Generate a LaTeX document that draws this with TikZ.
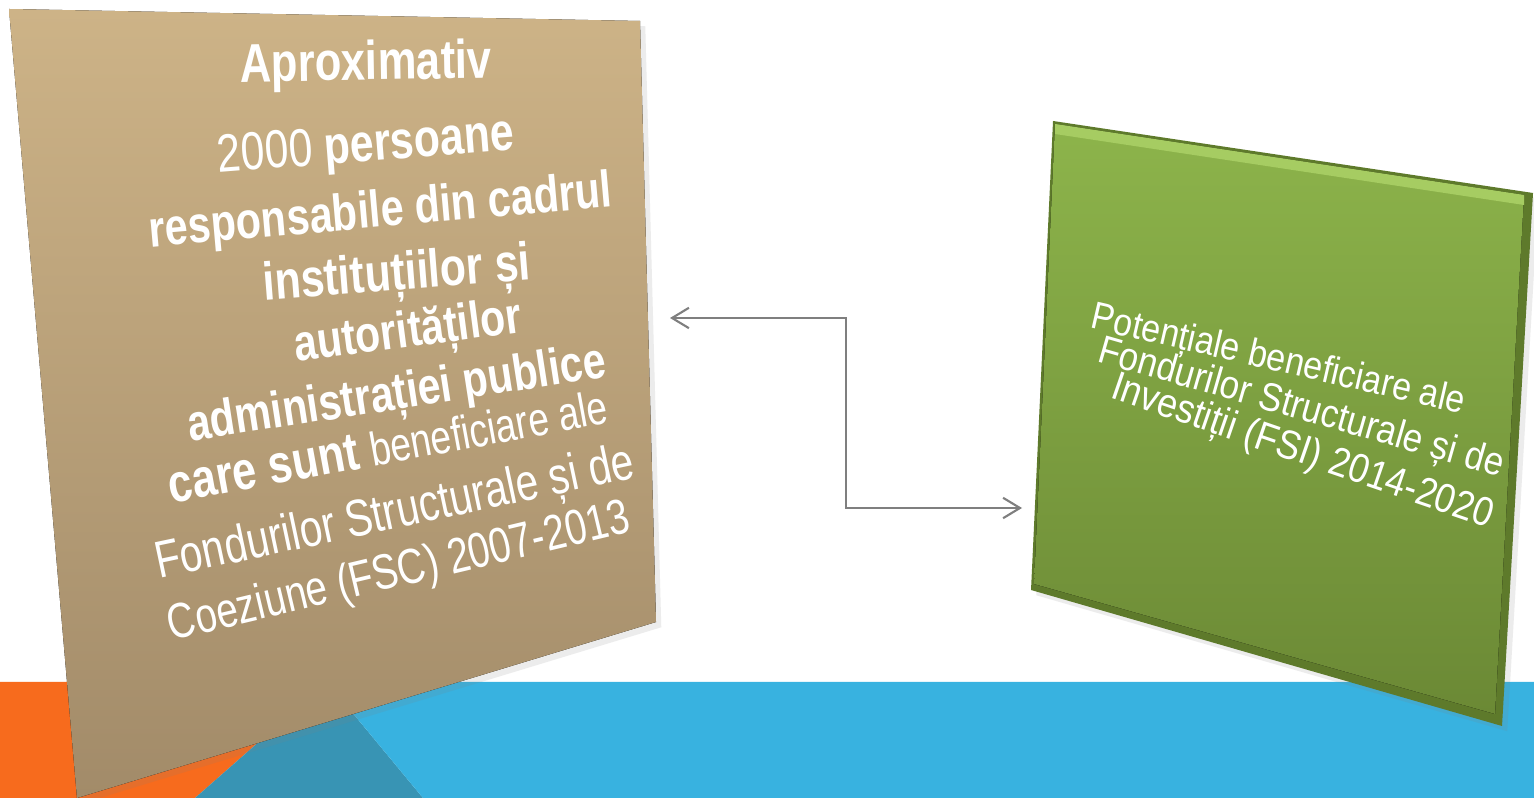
\documentclass[tikz,border=0pt]{standalone}
\usepackage{fontspec}
\setmainfont{Liberation Sans}
\newfontfamily\tallfont[FakeStretch=0.8]{Liberation Sans}
\newfontfamily\thinfont[FakeStretch=0.78]{Liberation Sans}
\newfontfamily\greenfont[FakeStretch=0.88]{Liberation Sans}
\usetikzlibrary{arrows.meta,shadows}

\definecolor{bandorange}{HTML}{F76B1D}
\definecolor{bandblue}{HTML}{38B2E0}
\definecolor{bandteal}{HTML}{3894B4}
\definecolor{tantop}{HTML}{CDB387}
\definecolor{tanbottom}{HTML}{A28B69}
\definecolor{greentop}{HTML}{8DB44B}
\definecolor{greenbottom}{HTML}{6B8935}
\definecolor{greenrim}{HTML}{5E7A2B}
\definecolor{greenlight}{HTML}{A6CC62}
\definecolor{arrowgray}{HTML}{7F7F7F}

\begin{document}
\begin{tikzpicture}[x=0.01cm,y=-0.01cm,
        txt/.style={text=white,inner sep=0pt,anchor=base},
        boldtxt/.style={txt,font=\fontsize{15pt}{17pt}\selectfont\tallfont\bfseries},
        thintxt/.style={txt,font=\fontsize{14.5pt}{17pt}\selectfont\thinfont},
        conn/.style={draw=arrowgray,line width=0.6pt,{Straight Barb[length=4.8pt,width=5.8pt]}-{Straight Barb[length=4.8pt,width=5.8pt]}}]
        \useasboundingbox (0,0) rectangle (1534,798);
        \fill[white] (0,0) rectangle (1534,798);
        % bands at the bottom
        \fill[bandorange] (0,682) -- (327,682) -- (195,798) -- (0,798) -- cycle;
        \fill[bandteal] (327,682) -- (423,798) -- (195,798) -- cycle;
        \fill[bandblue] (327,682) -- (1534,682) -- (1534,798) -- (423,798) -- cycle;
        % left box
        \coordinate (ltl) at (9,9);
        \coordinate (ltr) at (640,21);
        \coordinate (lbr) at (656,622);
        \coordinate (lbl) at (77,798);
        \fill[top color=tantop,bottom color=tanbottom,drop shadow={opacity=0.15,shadow xshift=1.5pt,shadow yshift=-1.5pt}] (ltl) -- (ltr) -- (lbr) -- (lbl) -- cycle;
        % right box
        \coordinate (rtl) at (1053,121);
        \coordinate (rtr) at (1533,193);
        \coordinate (rbr) at (1502,726);
        \coordinate (rbl) at (1031,590);
        \fill[greenrim,drop shadow={opacity=0.15,shadow xshift=1.5pt,shadow yshift=-1.5pt}] (rtl) -- (rtr) -- (rbr) -- (rbl) -- cycle;
        \fill[top color=greentop,bottom color=greenbottom] (1055,124) -- (1524,195) -- (1495,714) -- (1034,584) -- cycle;
        \fill[greenlight] (1055,124) -- (1524,195) -- (1524,205) -- (1055,134) -- cycle;
        % texts of the left box
        \node[boldtxt,font=\fontsize{15.5pt}{17pt}\selectfont\tallfont\bfseries,rotate=1] (a1) at (366,80) {Aproximativ};
        \node[boldtxt,font=\fontsize{15.2pt}{17pt}\selectfont\tallfont\bfseries,rotate=4.5] (a2) at (367,161) {\mdseries 2000 \bfseries persoane};
        \node[boldtxt,font=\fontsize{14.7pt}{17pt}\selectfont\tallfont\bfseries,rotate=5] (a3) at (382,227) {responsabile din cadrul};
        \node[boldtxt,font=\fontsize{15.2pt}{17pt}\selectfont\tallfont\bfseries,rotate=4.5] (a4) at (398,290) {instituțiilor și};
        \node[boldtxt,font=\fontsize{14.6pt}{17pt}\selectfont\tallfont\bfseries,rotate=7.5] (a5) at (410,347) {autorităților};
        \node[boldtxt,font=\fontsize{14.6pt}{17pt}\selectfont\tallfont\bfseries,rotate=8.8] (a6) at (399,409) {administrației publice};
        \node[boldtxt,font=\fontsize{15.4pt}{17pt}\selectfont\tallfont\bfseries,rotate=10.4] (a7) at (391,463) {care sunt {\mdseries\fontsize{13.5pt}{17pt}\selectfont\thinfont beneficiare ale}};
        \node[thintxt,font=\fontsize{14.8pt}{17pt}\selectfont\thinfont,rotate=12] (a8) at (398,528) {Fondurilor Structurale și de};
        \node[thintxt,font=\fontsize{14.1pt}{17pt}\selectfont\thinfont,rotate=13.4] (a9) at (402,586) {Coeziune (FSC) 2007-2013};
        % texts of the right box
        \node[txt,font=\fontsize{11pt}{13pt}\selectfont\greenfont,rotate=-13] (b1) at (1276,371) {Potențiale beneficiare ale};
        \node[txt,font=\fontsize{11.3pt}{13pt}\selectfont\greenfont,rotate=-16] (b2) at (1298,419) {Fondurilor Structurale și de};
        \node[txt,font=\fontsize{11.6pt}{13pt}\selectfont\greenfont,rotate=-19] (b3) at (1299,463) {Investiții (FSI) 2014-2020};
        % connector
        \coordinate (pl) at (670,318);
        \coordinate (pm) at (846,318);
        \coordinate (pr) at (1022,508);
        \draw[conn] (pl) -- (pm) |- (pr);
\end{tikzpicture}
\end{document}
